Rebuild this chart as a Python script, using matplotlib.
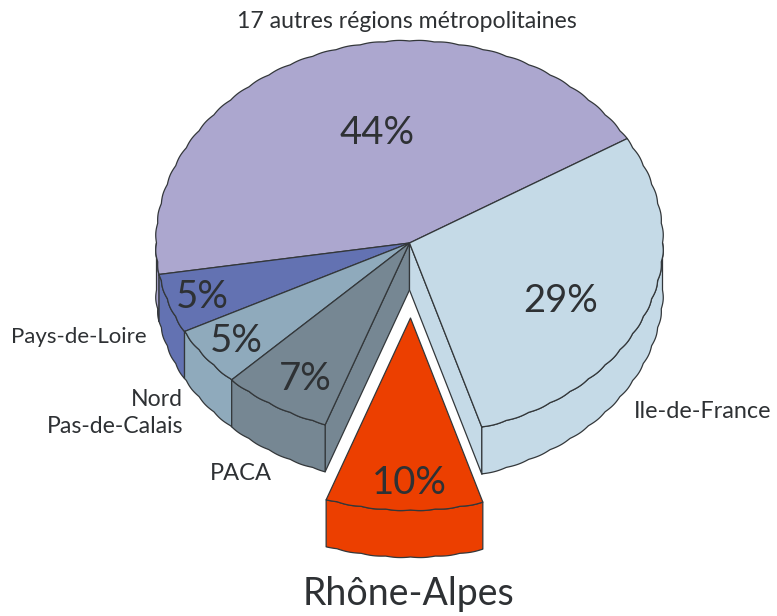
import numpy as np
import matplotlib
matplotlib.use('Agg')
import matplotlib.pyplot as plt
from matplotlib.patches import Polygon

# parts, counter-clockwise from the Ile-de-France / autres boundary
regions = ['17 autres régions métropolitaines', 'Pays-de-Loire', 'Nord\nPas-de-Calais', 'PACA', 'Rhône-Alpes', 'Ile-de-France']
shares = [44, 5, 5, 7, 10, 29]
colors = ['#ACA7CF', '#6372B2', '#8FAABC', '#768793', '#EC3F00', '#C5DAE7']

# layout, in image pixels
share_pos = [(377, 133), (202, 297), (236, 341), (305, 379), (409, 483), (561, 301)]
cx, cy = 409.5, 243
rx, ry_up, ry_down = 253, 202, 192
depth = 47
start = 31
edge = '#33373A'

plt.rcParams['font.family'] = ['Lato', 'DejaVu Sans']


def rim(a1, a2, dx=0, dy=0, drop=0):
    a = np.radians(np.linspace(a1, a2, max(int(abs(a2 - a1) * 6), 2)))
    r = 1 + 0.004 * np.abs(np.sin(a * 32))
    ry = np.where(np.sin(a) > 0, ry_up, ry_down)
    return np.column_stack((cx + dx + rx * r * np.cos(a), cy + dy + drop - ry * r * np.sin(a)))


def poly(ax, pts, color, z):
    ax.add_patch(Polygon(pts, closed=True, facecolor=color, edgecolor=edge, linewidth=0.9, joinstyle='round', zorder=z))


fig = plt.figure(figsize=(7.77, 6.16), dpi=100)
ax = fig.add_axes([0, 0, 1, 1])
ax.set_xlim(0, 777)
ax.set_ylim(616, 0)
ax.axis('off')

bounds = start + np.cumsum([0] + shares) * 3.6
for i, reg in enumerate(regions):
    a1, a2 = bounds[i], bounds[i + 1]
    col = colors[i]
    dy = 75 if reg == 'Rhône-Alpes' else 0
    dx = 1 if reg == 'Rhône-Alpes' else 0
    apex = np.array([[cx + dx, cy + dy]])

    # outer wall, only where it faces us
    w1, w2 = max(a1, 180), min(a2, 360)
    if w2 > w1:
        top = rim(w1, w2, dx, dy)
        poly(ax, np.vstack((top, rim(w2, w1, dx, dy, depth))), col, 2)
    if reg == 'PACA':
        # cut face on the right of PACA
        e = rim(a2, a2)[0]
        poly(ax, np.vstack((apex, [e], [e + (0, depth)], apex + (0, depth))), col, 1)
    if reg == 'Ile-de-France':
        e = rim(a1, a1)[0]
        poly(ax, np.vstack((apex, [e], [e + (0, depth)], apex + (0, depth))), col, 1)

    poly(ax, np.vstack((apex, rim(a1, a2, dx, dy))), col, 3)
    ax.text(*share_pos[i], f'{shares[i]}%', fontsize=27.5, color='#2E3134', ha='center', va='center', zorder=5)

label_col = '#2E3134'
ax.text(407, 21, regions[0], fontsize=16.6, color=label_col, ha='center', va='center')
ax.text(147, 337, regions[1], fontsize=16, color=label_col, ha='right', va='center')
ax.text(183, 413, regions[2], fontsize=16.6, color=label_col, ha='right', va='center', linespacing=1.4)
ax.text(241, 473, regions[3], fontsize=17, color=label_col, ha='center', va='center')
ax.text(408, 594, regions[4], fontsize=27, color=label_col, ha='center', va='center')
ax.text(771, 412, regions[5], fontsize=16.8, color=label_col, ha='right', va='center')

fig.savefig('out.png', dpi=100)
